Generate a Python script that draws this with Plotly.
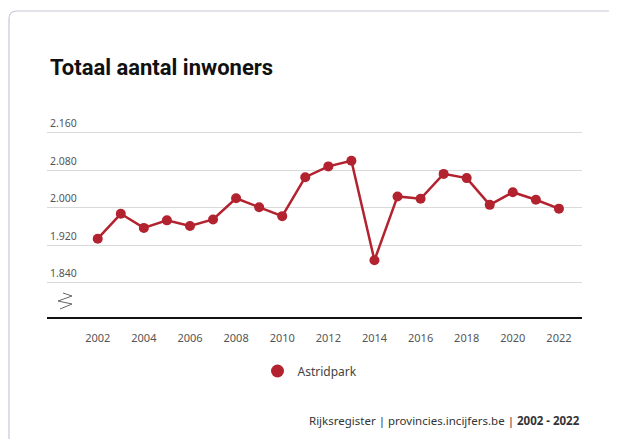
import plotly.graph_objects as go

# data
jaren = list(range(2002, 2023))
inwoners = [1934, 1987, 1957, 1973, 1961, 1975, 2020, 2001, 1982, 2065, 2088,
            2100, 1888, 2024, 2019, 2072, 2063, 2006, 2033, 2017, 1998]
reeks = "Astridpark"
y_ticks = [1840, 1920, 2000, 2080, 2160]
x_ticks = list(range(2002, 2023, 2))

W, H = 617, 439
OFF = 8  # the page body adds an 8px margin
rood = "#b2222f"

def px(x):
    return (x - OFF) / W

def py(y):
    return 1 - (y - OFF) / H

fig = go.Figure()
fig.add_trace(go.Scatter(
    x=jaren, y=inwoners, mode="lines+markers", name=reeks, showlegend=False,
    line=dict(color=rood, width=2.5),
    marker=dict(color=rood, size=10),
))
# legend entry: marker only
fig.add_trace(go.Scatter(
    x=[None], y=[None], mode="markers", name=reeks,
    marker=dict(color=rood, size=13),
))

fig.update_layout(
    width=W, height=H,
    margin=dict(l=0, r=0, t=0, b=0),
    paper_bgcolor="white", plot_bgcolor="white",
    font=dict(family="Noto Sans, sans-serif", color="#555"),
    showlegend=True,
    legend=dict(orientation="h", x=px(310), xanchor="center", y=py(371), yanchor="middle",
                font=dict(size=12, color="#444"), itemwidth=30),
    xaxis=dict(
        domain=[px(47), px(582)], range=[1999.8, 2023.0], automargin=False,
        tickvals=x_ticks, ticktext=[str(v) for v in x_ticks],
        showgrid=False, zeroline=False, showline=True, linecolor="#111", linewidth=2,
        ticks="", ticklabelstandoff=9, tickfont=dict(size=11, color="#555"),
    ),
    yaxis=dict(
        domain=[py(317.3), py(109.3)], range=[1766.5, 2209.6], automargin=False,
        tickvals=y_ticks, ticktext=[f"{v // 1000}.{v % 1000:03d}" for v in y_ticks],
        showgrid=True, gridcolor="#d9d9d9", gridwidth=1, zeroline=False, showline=False,
        ticks="", ticklabelposition="inside", ticklabelshift=-9, ticklabelstandoff=0,
        tickfont=dict(size=10.5, color="#555"),
    ),
    annotations=[
        dict(text="<b>Totaal aantal inwoners</b>", x=px(48), y=py(68), xref="paper", yref="paper",
             xanchor="left", yanchor="middle", showarrow=False,
             font=dict(size=22, color="#111", family="Roboto, Noto Sans, sans-serif")),
        dict(text="Rijksregister | provincies.incijfers.be | <b>2002 - 2022</b>",
             x=px(582), y=py(420), xref="paper", yref="paper",
             xanchor="right", yanchor="middle", showarrow=False,
             font=dict(size=11.5, color="#333")),
    ],
    shapes=[
        # card border
        dict(type="path", xref="paper", yref="paper",
             path=f"M {px(9)},{py(439)} L {px(9)},{py(19)} Q {px(9)},{py(11)} {px(17)},{py(11)} L {px(625)},{py(11)}",
             line=dict(color="#c8c8d8", width=1.2)),
        # axis break symbol
        dict(type="path", xref="paper", yref="paper",
             path=f"M {px(63)},{py(293)} L {px(72)},{py(296)} L {px(58)},{py(301)} L {px(72)},{py(304)} L {px(60)},{py(309)}",
             line=dict(color="#666", width=1)),
    ],
)

fig.write_html("out.html")
